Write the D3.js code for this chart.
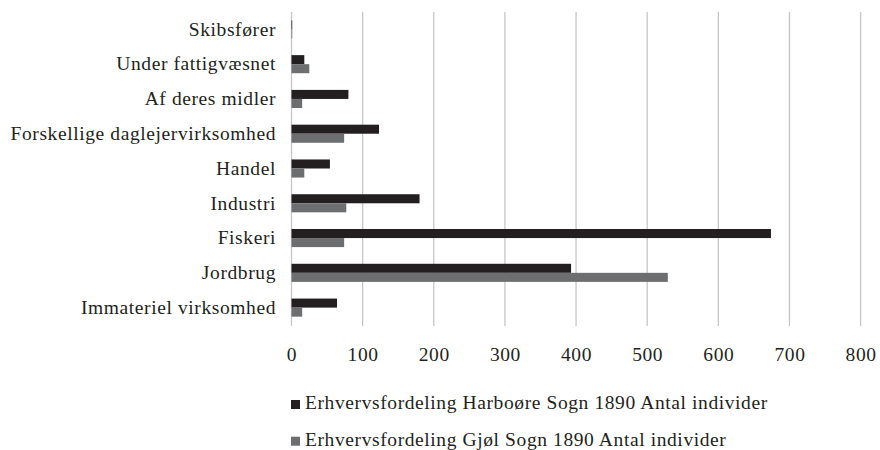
<!DOCTYPE html>
<html>
<head>
<meta charset="utf-8">
<script src="https://cdnjs.cloudflare.com/ajax/libs/d3/7.8.5/d3.min.js"></script>
<style>
  body { margin: 0; background: #fff; }
  text { font-family: 'Liberation Serif', 'Times New Roman', serif; fill: #231f20; }
</style>
</head>
<body>
<div id="vis"></div>
<script>
// categories, top to bottom as drawn
var categories = ['Skibsfører', 'Under fattigvæsnet', 'Af deres midler',
  'Forskellige daglejervirksomhed', 'Handel', 'Industri', 'Fiskeri',
  'Jordbrug', 'Immateriel virksomhed'];

// Antal individer per parish
var harboore = [1, 18, 80, 123, 54, 180, 674, 393, 64];
var gjol = [1, 25, 15, 74, 18, 77, 74, 529, 15];

var seriesNames = ['Erhvervsfordeling Harboøre Sogn 1890 Antal individer',
  'Erhvervsfordeling Gjøl Sogn 1890 Antal individer'];
var xTicks = [0, 100, 200, 300, 400, 500, 600, 700, 800];

var width = 880;
var height = 450;
var colors = ['#231f20', '#6d6e70'];
var fontSize = '19.5px';
var spacing = '0.6px';

var svg = d3.select('#vis')
  .append('svg')
  .attr('width', width)
  .attr('height', height);

var x = d3.scaleLinear()
  .domain([0, 800])
  .range([291.5, 860.6]);

var y = d3.scaleBand()
  .domain(categories)
  .range([12, 325])
  .paddingInner(0.48)
  .paddingOuter(0.24);

var ySub = d3.scaleBand()
  .domain([0, 1])
  .range([0, y.bandwidth()]);

// vertical gridlines (including the zero line)
svg.append('g')
  .selectAll('line')
  .data(xTicks)
  .enter().append('line')
  .attr('x1', function (d) { return x(d); })
  .attr('x2', function (d) { return x(d); })
  .attr('y1', 12)
  .attr('y2', 326)
  .attr('stroke', '#c6c6c6')
  .attr('stroke-width', 1.3);

// bars
var rows = categories.map(function (c, i) {
  return { cat: c, values: [harboore[i], gjol[i]] };
});

var groups = svg.append('g')
  .selectAll('g')
  .data(rows)
  .enter().append('g')
  .attr('transform', function (d) { return 'translate(0,' + y(d.cat) + ')'; });

groups.selectAll('rect')
  .data(function (d) { return d.values; })
  .enter().append('rect')
  .attr('x', x(0))
  .attr('y', function (d, i) { return ySub(i); })
  .attr('width', function (d) { return x(d) - x(0); })
  .attr('height', ySub.bandwidth())
  .attr('fill', function (d, i) { return colors[i]; });

// category labels
var yAxis = d3.axisLeft(y).tickSize(0).tickPadding(0);
var yAxisG = svg.append('g')
  .attr('transform', 'translate(276,0)')
  .call(yAxis);
yAxisG.select('.domain').remove();
yAxisG.selectAll('text')
  .attr('dy', '0.32em')
  .style('font-size', fontSize)
  .style('letter-spacing', spacing);

// x tick labels
var xAxis = d3.axisBottom(x).tickValues(xTicks).tickSize(0).tickPadding(0);
var xAxisG = svg.append('g')
  .attr('transform', 'translate(0,361)')
  .call(xAxis);
xAxisG.select('.domain').remove();
xAxisG.selectAll('text')
  .attr('y', 0)
  .attr('dy', 0)
  .style('font-size', fontSize)
  .style('letter-spacing', spacing);

// legend
var legend = svg.append('g')
  .selectAll('g')
  .data(seriesNames)
  .enter().append('g')
  .attr('transform', function (d, i) { return 'translate(291,' + (400 + i * 36.7) + ')'; });

legend.append('rect')
  .attr('width', 9)
  .attr('height', 9)
  .attr('fill', function (d, i) { return colors[i]; });

legend.append('text')
  .attr('x', 14)
  .attr('y', 9.3)
  .style('font-size', fontSize)
  .style('letter-spacing', spacing)
  .text(function (d) { return d; });
</script>
</body>
</html>
